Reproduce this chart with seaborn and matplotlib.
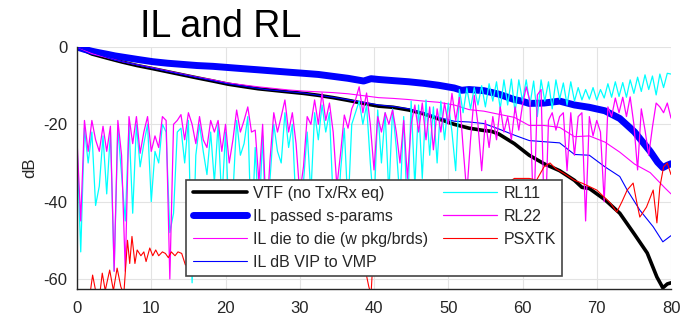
import numpy as np
import seaborn as sns
import matplotlib
matplotlib.use("Agg")
import matplotlib.pyplot as plt

# --- data (GHz vs dB) ---
vtf_x = [0, 2, 4.1, 6.1, 8.1, 10.2, 12.2, 14.2, 16.2, 18.3, 20.3, 22.3, 24.4, 26.4, 28.4,
         30.5, 32.5, 34.5, 36.5, 38.6, 40.6, 42.6, 44.7, 46.7, 48.7, 50.8, 52.8, 54.8,
         55.8, 56.8, 58.9, 60.9, 62.9, 65.0, 67.0, 68.0, 69.0, 71.1, 73.1, 75.1, 76.8,
         78.1, 78.9, 79.5, 80]
vtf_db = [0, -1.8, -2.9, -3.9, -4.8, -5.6, -6.4, -7.2, -8.0, -8.8, -9.6, -10.2, -10.8,
          -11.2, -11.6, -12.0, -12.5, -13.1, -13.8, -14.6, -15.3, -15.6, -16.3, -17.3,
          -18.6, -20.0, -21.0, -21.6, -21.8, -22.5, -25.0, -28.0, -30.2, -32.0, -34.5,
          -36.3, -36.6, -39.5, -43.0, -48.5, -53.3, -59.5, -62.3, -61.3, -61.0]

pass_x = [0, 1, 2, 3, 4.1, 5.1, 6.1, 8.1, 10.2, 12.2, 14.2, 16.2, 18.3, 20.3, 22.3, 24.4,
          26.4, 28.4, 30.5, 32.5, 34.5, 36.5, 38.6, 39.6, 40.6, 42.6, 44.7, 46.7, 48.7,
          50.8, 51.8, 52.8, 54.8, 56.8, 58.9, 59.9, 60.9, 62.9, 65.0, 67.0, 69.0, 71.1,
          73.1, 75.1, 77.2, 78.2, 78.9, 79.5, 80]
pass_db = [0, -0.6, -1.1, -1.5, -1.9, -2.3, -2.6, -3.2, -3.8, -4.2, -4.5, -4.8, -5.0,
           -5.3, -5.6, -5.9, -6.2, -6.5, -6.8, -7.1, -7.6, -8.1, -8.8, -8.2, -8.4, -8.7,
           -9.0, -9.4, -9.9, -10.6, -11.2, -11.0, -11.3, -12.2, -13.6, -14.0, -14.6,
           -14.5, -14.0, -15.0, -15.6, -16.5, -18.5, -22.0, -27.0, -29.8, -31.2, -30.6,
           -30.2]

d2d_x = [0, 2, 4.1, 6.1, 8.1, 10.2, 12.2, 14.2, 16.2, 18.3, 20.3, 22.3, 24.4, 26.4, 28.4,
         30.5, 32.5, 34.5, 36.5, 38.6, 40.6, 42.6, 44.7, 46.7, 48.7, 50.8, 52.8, 54.8,
         56.8, 58.9, 60.9, 62.9, 65.0, 67.0, 69.0, 71.1, 73.1, 75.1, 77.2, 79.2, 80]
d2d_db = [0, -1.7, -2.8, -3.8, -4.6, -5.4, -6.2, -7.0, -7.8, -8.5, -9.3, -9.8, -10.3,
          -10.7, -11.1, -11.4, -11.6, -11.8, -12.1, -12.6, -13.1, -13.3, -13.6, -14.0,
          -14.3, -15.0, -16.2, -16.6, -17.4, -18.2, -20.3, -20.3, -20.8, -23.2, -23.0,
          -24.6, -27.2, -30.3, -32.5, -36.5, -38.0]

vip_x = [0, 5.1, 10.2, 15.2, 20.3, 25.4, 30.5, 35.5, 40.6, 42.6, 44.7, 46.7, 48.7, 50.8,
         52.8, 54.8, 56.8, 58.9, 60.9, 62.9, 65.0, 67.0, 69.0, 71.1, 73.1, 74.1, 75.8,
         77.6, 78.9, 80]
vip_db = [0, -3.4, -5.5, -7.5, -9.5, -11.0, -11.9, -13.3, -15.0, -15.4, -16.0, -17.0,
          -18.2, -19.2, -19.4, -19.8, -21.2, -22.8, -24.2, -24.5, -24.8, -27.8, -28.0,
          -31.0, -33.5, -37.0, -42.2, -46.5, -50.4, -48.8]

# return loss sampled every 0.5 GHz
rl_x = np.arange(0, 80.5, 0.5)
rl11_db = [
    -25, -53, -21, -30, -22, -41, -36, -23, -38, -22,
    -58, -21, -33, -45, -20, -43, -20, -31, -25, -20,
    -40, -27, -30, -20, -22, -48, -43, -22, -21, -30,
    -19, -61, -28, -20, -27, -33, -22, -35, -20, -40,
    -22,
    -45, -38, -19, -28, -25, -18, -50, -26, -45, -23,
    -52, -34, -20, -27, -30, -17, -26, -20, -42, -50,
    -35, -22, -38, -17, -24, -15, -22, -17, -40, -48,
    -32, -21, -42, -20, -17, -14, -20, -15, -30, -42,
    -16.3, -30, -17, -38, -16, -26, -40, -18, -45, -14,
    -36, -15, -34, -13.7, -28, -15.5, -30, -14, -24, -14.5,
    -22, -32, -11, -17, -10.6, -16, -10.5, -15, -10, -15.5,
    -9.5, -14, -9, -16, -8.5, -15, -8.3, -17, -8.5, -14,
    -8.5, -15, -8.8, -18, -8.5, -14, -9, -16, -8.5, -13.5,
    -9.3, -15, -9, -14, -10.5, -13.7, -11, -13.5, -10.5, -13.7,
    -11, -13.2, -9.5, -13, -9, -12.8, -9.2, -13, -8.5, -12,
    -7.8, -11.5, -7.2, -11, -7.5, -12.4, -7, -10.5, -6.8, -7]
rl22_db = [
    -24, -45, -19, -27, -19, -24, -27, -20.5, -27, -20.5,
    -58, -19, -28, -58, -18, -25, -18, -27.5, -22, -18,
    -27, -23, -26, -18, -19, -60, -20, -19, -17.5, -24,
    -17, -20, -25, -18, -24, -26, -19, -22, -19, -27,
    -20,
    -30, -24, -16.3, -22, -19, -15.5, -22, -21.5, -35, -20,
    -45, -29, -17, -22, -18, -13.7, -22, -17, -25, -38,
    -31, -18, -20, -13.7, -20, -11.9, -19, -14.5, -22, -36,
    -27.5, -17.6, -21, -16, -13.7, -10.3, -17, -11.9, -20, -31.8,
    -18, -22, -17, -20, -16.3, -22, -30, -19, -34, -20,
    -15, -22, -14.5, -24, -15.5, -26.6, -16, -22, -14.5, -20,
    -12, -19, -13, -26, -38, -24, -12.5, -20, -32, -19,
    -26, -18, -24, -15.5, -22, -18, -24, -15.5, -21.5, -15,
    -10.3, -14, -45, -12.4, -11, -50, -19, -17, -21.5, -18,
    -17, -32, -17, -28, -18, -17, -45, -18, -23, -19,
    -22, -40, -15.5, -18, -13.2, -17, -13, -18, -12.9, -20,
    -31.8, -16, -21.5, -28, -20.7, -14.5, -15.5, -17, -14.5, -18.4]

xt_x = [0, 1, 1.6, 2.1, 2.6, 3.0, 3.4, 3.8, 4.4, 4.9, 5.4, 5.9, 6.3, 6.8, 7.1, 7.4, 7.8,
        8.1, 8.6, 9.0, 9.3, 9.8, 10.2, 10.6, 11.0, 11.5, 11.9, 12.3, 12.7, 13.2, 13.6,
        14.1, 14.6, 15.5, 17, 20, 25, 30, 35, 38, 39.3, 39.6, 40, 45, 50, 55.8, 58.9,
        60.9, 61.9, 62.9, 63.7, 64.5, 65.5, 67.0, 68.0, 70.0, 71.8, 72.7, 73.4, 74.1,
        74.9, 75.4, 75.8, 76.7, 77.6, 78.1, 78.5, 79.0, 79.5, 80]
xt_db = [-70, -68, -66, -59, -64, -65, -58.5, -63, -57.7, -63, -57.2, -62, -64, -50,
         -56, -49, -56, -52.5, -54, -53, -55.5, -52, -54, -52.5, -54, -53, -53.4, -54.5,
         -53, -54, -53, -53.4, -56.4, -55, -53, -50, -48, -47, -45, -50, -62, -64, -50,
         -46, -42, -38, -34, -34, -34.4, -31, -30, -31.5, -32.6, -34.5, -35.2, -37,
         -40.3, -42.7, -40, -37, -35.2, -40.3, -44, -41.4, -37, -45.5, -36.2, -31, -30,
         -33]

sns.set_theme(style="whitegrid")
plt.rcParams['font.family'] = ['Liberation Sans', 'DejaVu Sans']
plt.rcParams['axes.unicode_minus'] = False

fig = plt.figure(figsize=(6.84, 3.21), dpi=100)
ax = fig.add_axes([0.1126, 0.0997, 0.8684, 0.7539])

series = [
    (vtf_x, vtf_db, 'black', 2.6, 'VTF (no Tx/Rx eq)'),
    (pass_x, pass_db, 'blue', 5.0, 'IL passed s-params'),
    (d2d_x, d2d_db, 'magenta', 0.8, 'IL die to die (w pkg/brds)'),
    (vip_x, vip_db, 'blue', 0.8, 'IL dB VIP to VMP'),
    (rl_x, rl11_db, 'cyan', 0.9, 'RL11'),
    (rl_x, rl22_db, 'magenta', 0.9, 'RL22'),
    (xt_x, xt_db, 'red', 0.8, 'PSXTK'),
]
for xs, ys, c, lw, lab in series:
    sns.lineplot(x=xs, y=ys, ax=ax, color=c, lw=lw, label=lab, sort=False)

ax.set_xlim(0, 80)
ax.set_ylim(-62.6, 0)
ax.set_xticks(range(0, 81, 10))
ax.set_yticks([-60, -40, -20, 0])
ax.set_ylabel('dB', fontsize=12, color='#262626')
ax.grid(True, color='#e3e3e3', lw=0.8)
ax.set_axisbelow(True)
for s in ['top', 'right']:
    ax.spines[s].set_visible(False)
for s in ['left', 'bottom']:
    ax.spines[s].set_color('#262626')
    ax.spines[s].set_linewidth(1.0)
ax.tick_params(direction='in', length=4, width=0.8, colors='#262626',
               labelsize=12, pad=7)
ax.tick_params(axis='x', pad=9)

leg = ax.legend(ncol=2, loc='upper left', bbox_to_anchor=(0.184, 0.452),
                borderaxespad=0, fontsize=11.5, frameon=True, fancybox=False,
                handlelength=3.4, handletextpad=0.4, columnspacing=0.9,
                labelspacing=0.5, borderpad=0.4)
leg.get_frame().set_edgecolor('#444444')
leg.get_frame().set_linewidth(1.2)
leg.get_frame().set_alpha(1)

fig.text(0.205, 0.885, 'IL and RL', fontsize=27, color='black', ha='left')

fig.savefig('out.png', dpi=100)
